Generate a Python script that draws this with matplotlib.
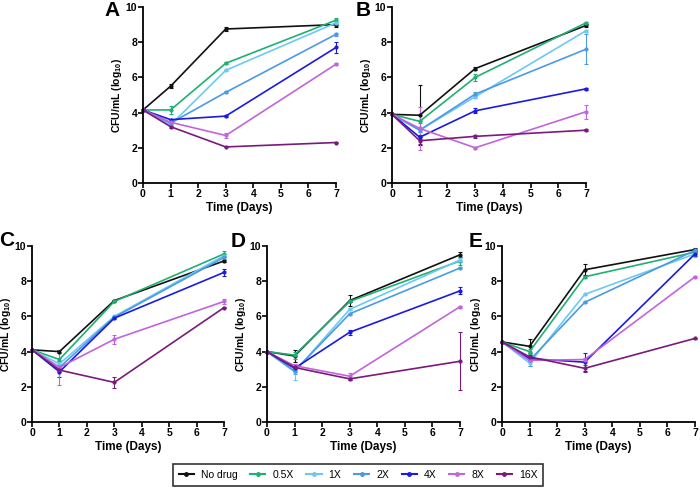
import matplotlib
matplotlib.use('Agg')
import matplotlib.pyplot as plt
from matplotlib.lines import Line2D

plt.rcParams['font.family'] = ['Liberation Sans', 'DejaVu Sans']
plt.rcParams['font.weight'] = 'bold'
plt.rcParams['mathtext.fontset'] = 'custom'
plt.rcParams['mathtext.rm'] = 'Liberation Sans:bold'
plt.rcParams['mathtext.default'] = 'rm'

days = [0, 1, 3, 7]
groups = ['No drug', '0.5X', '1X', '2X', '4X', '8X', '16X']
colors = ['#111111', '#1fb072', '#6cc9f2', '#4b9ae6', '#1a1ae0', '#c264dc', '#7a1a7a']

# mean log10 CFU/mL per panel, per group
panel_A = [
    [4.15, 5.5, 8.75, 9.0],
    [4.15, 4.15, 6.8, 9.25],
    [4.15, 3.3, 6.4, 9.1],
    [4.15, 3.4, 5.15, 8.45],
    [4.15, 3.6, 3.8, 7.7],
    [4.15, 3.45, 2.7, 6.75],
    [4.15, 3.2, 2.05, 2.3],
]
err_A = [
    [0, 0.1, 0.12, 0.15],
    [0, 0.22, 0.05, 0.1],
    [0, 0.05, 0.05, 0.05],
    [0, 0.05, 0.05, 0.08],
    [0, 0.05, 0.05, 0.3],
    [0, 0.05, 0.15, 0.05],
    [0, 0.05, 0.03, 0.03],
]
panel_B = [
    [3.9, 3.85, 6.5, 8.95],
    [3.9, 3.5, 6.0, 9.1],
    [3.9, 3.0, 4.9, 8.65],
    [3.9, 3.0, 5.05, 7.6],
    [3.9, 2.6, 4.1, 5.35],
    [3.9, 3.1, 2.0, 4.05],
    [3.9, 2.4, 2.65, 3.0],
]
err_B = [
    [0, 1.7, 0.1, 0.1],
    [0, 0.1, 0.2, 0.05],
    [0, 0.1, 0.05, 0.05],
    [0, 0.1, 0.1, 0.85],
    [0, 0.1, 0.15, 0.05],
    [0, 1.2, 0.05, 0.4],
    [0, 0.2, 0.08, 0.05],
]
panel_C = [
    [4.1, 4.0, 6.9, 9.15],
    [4.1, 3.55, 6.85, 9.55],
    [4.1, 3.3, 6.0, 9.45],
    [4.1, 3.1, 5.95, 9.35],
    [4.1, 2.85, 5.9, 8.5],
    [4.1, 3.1, 4.7, 6.85],
    [4.1, 2.95, 2.25, 6.5],
]
err_C = [
    [0, 0.1, 0.05, 0.05],
    [0, 0.1, 0.05, 0.15],
    [0, 0.1, 0.05, 0.1],
    [0, 0.1, 0.05, 0.1],
    [0, 0.3, 0.05, 0.2],
    [0, 1.0, 0.25, 0.15],
    [0, 0.1, 0.3, 0.05],
]
panel_D = [
    [4.0, 3.75, 6.9, 9.5],
    [4.0, 3.8, 6.85, 9.15],
    [4.0, 2.85, 6.4, 9.2],
    [4.0, 2.9, 6.15, 8.75],
    [4.0, 3.05, 5.1, 7.45],
    [4.0, 3.2, 2.6, 6.55],
    [4.0, 3.1, 2.45, 3.45],
]
err_D = [
    [0, 0.35, 0.3, 0.15],
    [0, 0.2, 0.05, 0.25],
    [0, 0.45, 0.05, 0.1],
    [0, 0.2, 0.05, 0.05],
    [0, 0.1, 0.15, 0.2],
    [0, 0.1, 0.2, 0.05],
    [0, 0.1, 0.05, 1.65],
]
panel_E = [
    [4.55, 4.3, 8.65, 9.8],
    [4.55, 4.0, 8.25, 9.65],
    [4.55, 3.35, 7.25, 9.55],
    [4.55, 3.5, 6.8, 9.75],
    [4.55, 3.6, 3.4, 9.55],
    [4.55, 3.5, 3.55, 8.25],
    [4.55, 3.7, 3.05, 4.75],
]
err_E = [
    [0, 0.4, 0.3, 0.1],
    [0, 0.15, 0.05, 0.1],
    [0, 0.15, 0.05, 0.15],
    [0, 0.3, 0.05, 0.1],
    [0, 0.15, 0.5, 0.1],
    [0, 0.1, 0.1, 0.05],
    [0, 0.1, 0.2, 0.05],
]

W, H = 700, 490

# axes rects in pixels (left, top, right, bottom) and panel letter positions
panels = [
    ('A', panel_A, err_A, (143, 7, 336, 183), (112, 11)),
    ('B', panel_B, err_B, (392, 7, 586, 183), (363, 11)),
    ('C', panel_C, err_C, (32, 246, 224, 422), (7, 240)),
    ('D', panel_D, err_D, (267, 246, 460, 422), (238, 241)),
    ('E', panel_E, err_E, (502, 246, 695, 422), (476, 241)),
]

fig = plt.figure(figsize=(7, 4.9), dpi=100)

for letter, means, errs, box, pos in panels:
    l, t, r, b = box
    ax = fig.add_axes([l / W, 1 - b / H, (r - l) / W, (b - t) / H])
    for g, color, m, e in zip(groups, colors, means, errs):
        ax.errorbar(days, m, yerr=e, color=color, lw=1.2, marker='o', ms=2,
                    capsize=1.5, elinewidth=0.8, capthick=0.8, label=g, clip_on=False)
    ax.set_xlim(0, 7)
    ax.set_ylim(0, 10)
    ax.set_xticks(range(8))
    ax.set_yticks([0, 2, 4, 6, 8, 10])
    ax.spines['top'].set_visible(False)
    ax.spines['right'].set_visible(False)
    for s in ['left', 'bottom']:
        ax.spines[s].set_linewidth(1.3)
    ax.tick_params(direction='out', length=3.3, width=1.2, labelsize=7.5, pad=0.8)
    for lab in ax.get_xticklabels() + ax.get_yticklabels():
        lab.set_fontweight('bold')
    ax.set_xlabel('Time (Days)', fontsize=8.5, fontweight='bold', labelpad=2.5)
    ax.set_ylabel(r'CFU/mL (log$_{10}$)', fontsize=7.5, fontweight='bold', labelpad=1.5)
    fig.text(pos[0] / W, 1 - pos[1] / H, letter, fontsize=15,
             fontweight='bold', ha='center', va='center')

handles = [Line2D([0], [0], color=c, lw=1.5, marker='o', ms=2.5) for c in colors]
leg = fig.legend(handles, groups, loc='center', bbox_to_anchor=(358 / W, 1 - 475 / H),
                 ncol=7, frameon=True, fancybox=False, edgecolor='black',
                 handlelength=1.45, handletextpad=0.65, columnspacing=1.25,
                 borderpad=0.55, prop={'weight': 'normal', 'size': 7.5})
leg.get_frame().set_linewidth(1.2)

fig.savefig('out.png', dpi=100)
